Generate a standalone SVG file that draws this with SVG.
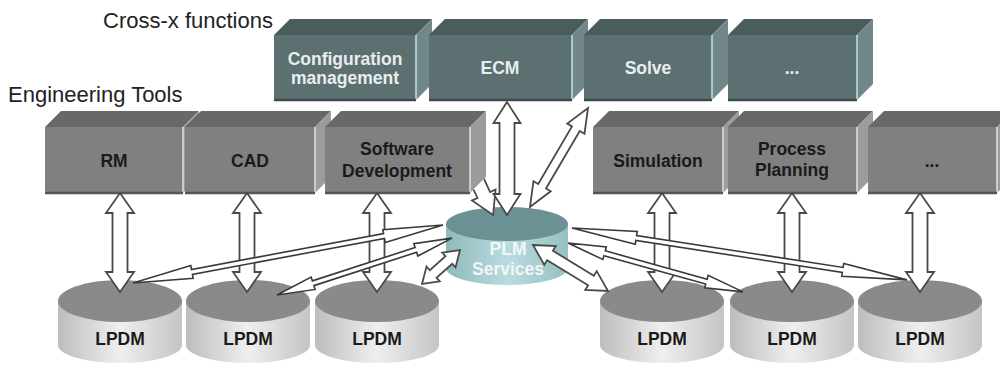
<svg xmlns="http://www.w3.org/2000/svg" width="1000" height="367" viewBox="0 0 1000 367">
  <defs>
    <style>
      .heading { font-family: "Liberation Sans", Arial, sans-serif; font-size: 22px; fill: #222; }
      .lbl { font-family: "Liberation Sans", Arial, sans-serif; font-size: 17.5px; font-weight: bold; text-anchor: middle; }
      .lbl-light { fill: #e8eeee; }
      .lbl-dark { fill: #1a1a1a; }
      .t-top { fill: #4b5c5d; }
      .t-side { fill: #718789; }
      .t-front { fill: #5c7072; }
      .t-edge { stroke: #bfe3ea; stroke-width: 1.5; }
      .t-base { stroke: #3d4b4c; stroke-width: 2.5; }
      .g-top { fill: #686868; }
      .g-side { fill: #9c9c9c; }
      .g-front { fill: #808080; }
      .g-edge { stroke: #e0e0e0; stroke-width: 1.5; }
      .g-base { stroke: #555; stroke-width: 2.5; }
      .db-top { fill: #8a8a8a; }
      .db-body { fill: url(#dbBody); }
      .arrow-block { fill: #fff; stroke: #4a4a4a; stroke-width: 1.8; stroke-linejoin: miter; }
      .arrow-thin { fill: #fff; stroke: #3a3a3a; stroke-width: 1.6; stroke-linejoin: miter; }
    </style>
    <linearGradient id="dbBody" x1="0" y1="0" x2="1" y2="0">
      <stop offset="0" stop-color="#bdbdbd"/>
      <stop offset="0.5" stop-color="#efefef"/>
      <stop offset="1" stop-color="#c4c4c4"/>
    </linearGradient>
    <linearGradient id="plmBody" x1="0" y1="0" x2="1" y2="0">
      <stop offset="0" stop-color="#8fb9bc"/>
      <stop offset="0.5" stop-color="#b9dcdf"/>
      <stop offset="1" stop-color="#97c0c3"/>
    </linearGradient>
    <!-- vertical double block arrow, tool box to local database -->
    <path id="vArrow" d="M0,0 L14,20 L7.5,20 L7.5,79 L14,79 L0,99 L-14,79 L-7.5,79 L-7.5,20 L-14,20 Z"/>
    <!-- local database cylinder, centred on x=0 -->
    <g id="lpdm">
      <path class="db-body" d="M-62,301 L-62,345 A62,18 0 0 0 62,345 L62,301 Z"/>
      <ellipse class="db-top" cx="0" cy="301" rx="62" ry="21"/>
      <text class="lbl lbl-dark" x="0" y="345">LPDM</text>
    </g>
    <!-- region outside the Software Development block -->
    <clipPath id="outsideSw" clipPathUnits="userSpaceOnUse">
      <path clip-rule="evenodd" d="M0,0 H1000 V367 H0 Z M325,127 L341,111 L486,111 L486,177 L470,193 L325,193 Z"/>
    </clipPath>
  </defs>

  <rect width="1000" height="367" fill="#fff"/>

  <text class="heading" x="103" y="28">Cross-x functions</text>
  <text class="heading" x="8" y="102">Engineering Tools</text>

  <!-- cross-x function blocks -->
  <g id="cfg-mgmt">
    <path class="t-top" d="M274,35 L290,19 L432,19 L416,35 Z"/>
    <path class="t-side" d="M416,35 L432,19 L432,84 L416,100 Z"/>
    <rect class="t-front" x="274" y="35" width="142" height="65"/>
    <line class="t-edge" x1="416" y1="35" x2="416" y2="100"/>
    <line class="t-base" x1="274" y1="100" x2="416" y2="100"/>
    <text class="lbl lbl-light" x="345" y="65">Configuration</text>
    <text class="lbl lbl-light" x="345" y="84">management</text>
  </g>
  <g id="ecm">
    <path class="t-top" d="M429,35 L445,19 L588,19 L572,35 Z"/>
    <path class="t-side" d="M572,35 L588,19 L588,84 L572,100 Z"/>
    <rect class="t-front" x="429" y="35" width="143" height="65"/>
    <line class="t-edge" x1="572" y1="35" x2="572" y2="100"/>
    <line class="t-base" x1="429" y1="100" x2="572" y2="100"/>
    <text class="lbl lbl-light" x="500" y="74">ECM</text>
  </g>
  <g id="solve">
    <path class="t-top" d="M584,35 L600,19 L728,19 L712,35 Z"/>
    <path class="t-side" d="M712,35 L728,19 L728,84 L712,100 Z"/>
    <rect class="t-front" x="584" y="35" width="128" height="65"/>
    <line class="t-edge" x1="712" y1="35" x2="712" y2="100"/>
    <line class="t-base" x1="584" y1="100" x2="712" y2="100"/>
    <text class="lbl lbl-light" x="648" y="74">Solve</text>
  </g>
  <g id="cross-more">
    <path class="t-top" d="M728,35 L744,19 L873,19 L857,35 Z"/>
    <path class="t-side" d="M857,35 L873,19 L873,84 L857,100 Z"/>
    <rect class="t-front" x="728" y="35" width="129" height="65"/>
    <line class="t-edge" x1="857" y1="35" x2="857" y2="100"/>
    <line class="t-base" x1="728" y1="100" x2="857" y2="100"/>
    <text class="lbl lbl-light" x="792" y="74">...</text>
  </g>

  <!-- engineering tool blocks -->
  <g id="rm">
    <path class="g-top" d="M45,127 L61,111 L199,111 L183,127 Z"/>
    <path class="g-side" d="M183,127 L199,111 L199,177 L183,193 Z"/>
    <rect class="g-front" x="45" y="127" width="138" height="66"/>
    <line class="g-edge" x1="183" y1="127" x2="183" y2="193"/>
    <line class="g-base" x1="45" y1="193" x2="183" y2="193"/>
    <text class="lbl lbl-dark" x="114" y="167">RM</text>
  </g>
  <g id="cad">
    <path class="g-top" d="M185,127 L201,111 L331,111 L315,127 Z"/>
    <path class="g-side" d="M315,127 L331,111 L331,177 L315,193 Z"/>
    <rect class="g-front" x="185" y="127" width="130" height="66"/>
    <line class="g-edge" x1="315" y1="127" x2="315" y2="193"/>
    <line class="g-base" x1="185" y1="193" x2="315" y2="193"/>
    <text class="lbl lbl-dark" x="250" y="167">CAD</text>
  </g>
  <g id="sw-dev">
    <path class="g-top" d="M325,127 L341,111 L486,111 L470,127 Z"/>
    <path class="g-side" d="M470,127 L486,111 L486,177 L470,193 Z"/>
    <rect class="g-front" x="325" y="127" width="145" height="66"/>
    <line class="g-edge" x1="470" y1="127" x2="470" y2="193"/>
    <line class="g-base" x1="325" y1="193" x2="470" y2="193"/>
    <text class="lbl lbl-dark" x="397" y="155">Software</text>
    <text class="lbl lbl-dark" x="397" y="177">Development</text>
  </g>
  <g id="simulation">
    <path class="g-top" d="M593,127 L609,111 L739,111 L723,127 Z"/>
    <path class="g-side" d="M723,127 L739,111 L739,177 L723,193 Z"/>
    <rect class="g-front" x="593" y="127" width="130" height="66"/>
    <line class="g-edge" x1="723" y1="127" x2="723" y2="193"/>
    <line class="g-base" x1="593" y1="193" x2="723" y2="193"/>
    <text class="lbl lbl-dark" x="658" y="167">Simulation</text>
  </g>
  <g id="process-planning">
    <path class="g-top" d="M728,127 L744,111 L873,111 L857,127 Z"/>
    <path class="g-side" d="M857,127 L873,111 L873,177 L857,193 Z"/>
    <rect class="g-front" x="728" y="127" width="129" height="66"/>
    <line class="g-edge" x1="857" y1="127" x2="857" y2="193"/>
    <line class="g-base" x1="728" y1="193" x2="857" y2="193"/>
    <text class="lbl lbl-dark" x="792" y="155">Process</text>
    <text class="lbl lbl-dark" x="792" y="176">Planning</text>
  </g>
  <g id="tools-more">
    <path class="g-top" d="M868,127 L884,111 L1013,111 L997,127 Z"/>
    <path class="g-side" d="M997,127 L1013,111 L1013,177 L997,193 Z"/>
    <rect class="g-front" x="868" y="127" width="129" height="66"/>
    <line class="g-edge" x1="997" y1="127" x2="997" y2="193"/>
    <line class="g-base" x1="868" y1="193" x2="997" y2="193"/>
    <text class="lbl lbl-dark" x="932" y="167">...</text>
  </g>

  <!-- central PLM services store -->
  <g id="plm-services">
    <path fill="url(#plmBody)" d="M446,224 L446,268 A61,17 0 0 0 568,268 L568,224 Z"/>
    <ellipse cx="507" cy="224" rx="61" ry="17" fill="#6c9195"/>
    <text class="lbl" fill="#f2f6f6" x="508" y="255">PLM</text>
    <text class="lbl" fill="#f2f6f6" x="508" y="275">Services</text>
  </g>

  <!-- local product data stores -->
  <g id="lpdm-rm"><use href="#lpdm" x="120"/></g>
  <g id="lpdm-cad"><use href="#lpdm" x="248"/></g>
  <g id="lpdm-sw"><use href="#lpdm" x="377"/></g>
  <g id="lpdm-sim"><use href="#lpdm" x="662"/></g>
  <g id="lpdm-pp"><use href="#lpdm" x="792"/></g>
  <g id="lpdm-more"><use href="#lpdm" x="920"/></g>

  <!-- connectors -->
  <g id="connectors">
    <!-- configuration management to PLM, running behind the Software Development block -->
    <g clip-path="url(#outsideSw)">
      <path class="arrow-block" transform="translate(446,114) rotate(65)"
            d="M0,0 L22,-13 L22,-7 L89.4,-7 L89.4,-13 L111.4,0 L89.4,13 L89.4,7 L22,7 L22,13 Z"/>
    </g>
    <!-- ECM to PLM -->
    <path class="arrow-block" transform="translate(507,102)"
          d="M0,0 L13.5,21 L7.5,21 L7.5,92 L13.5,92 L0,113 L-13.5,92 L-7.5,92 L-7.5,21 L-13.5,21 Z"/>
    <!-- Solve to PLM -->
    <path class="arrow-block" transform="translate(588,108) rotate(120.4)"
          d="M0,0 L24,-10 L24,-4.5 L90.7,-4.5 L90.7,-10 L114.7,0 L90.7,10 L90.7,4.5 L24,4.5 L24,10 Z"/>

    <!-- tools to their local stores -->
    <use class="arrow-block" href="#vArrow" x="120" y="193"/>
    <use class="arrow-block" href="#vArrow" x="247" y="193"/>
    <use class="arrow-block" href="#vArrow" x="377" y="193"/>
    <use class="arrow-block" href="#vArrow" x="662" y="193"/>
    <use class="arrow-block" href="#vArrow" x="792" y="193"/>
    <use class="arrow-block" href="#vArrow" x="920" y="193"/>

    <!-- PLM to local stores, left -->
    <path class="arrow-thin" transform="translate(133,283) rotate(-10.6)"
          d="M0,0 L60,-6.5 L60,-2.5 L255.4,-2.5 L255.4,-6.5 L315.4,0 L255.4,6.5 L255.4,2.5 L60,2.5 L60,6.5 Z"/>
    <path class="arrow-thin" transform="translate(277,295) rotate(-18)"
          d="M0,0 L38,-6.5 L38,-2.5 L146,-2.5 L146,-6.5 L184,0 L146,6.5 L146,2.5 L38,2.5 L38,6.5 Z"/>
    <path class="arrow-block" transform="translate(422,284) rotate(-41.8)"
          d="M0,0 L15,-10 L15,-5 L36,-5 L36,-10 L51,0 L36,10 L36,5 L15,5 L15,10 Z"/>

    <!-- PLM to local stores, right -->
    <path class="arrow-thin" transform="translate(572,228) rotate(8.8)"
          d="M0,0 L65,-6.5 L65,-2.5 L274,-2.5 L274,-6.5 L339,0 L274,6.5 L274,2.5 L65,2.5 L65,6.5 Z"/>
    <path class="arrow-thin" transform="translate(568,243) rotate(15.6)"
          d="M0,0 L38,-6.5 L38,-2.5 L143.7,-2.5 L143.7,-6.5 L181.7,0 L143.7,6.5 L143.7,2.5 L38,2.5 L38,6.5 Z"/>
    <path class="arrow-block" transform="translate(533,245) rotate(31.5)"
          d="M0,0 L20,-11 L20,-5.5 L68,-5.5 L68,-11 L88,0 L68,11 L68,5.5 L20,5.5 L20,11 Z"/>
  </g>
</svg>
